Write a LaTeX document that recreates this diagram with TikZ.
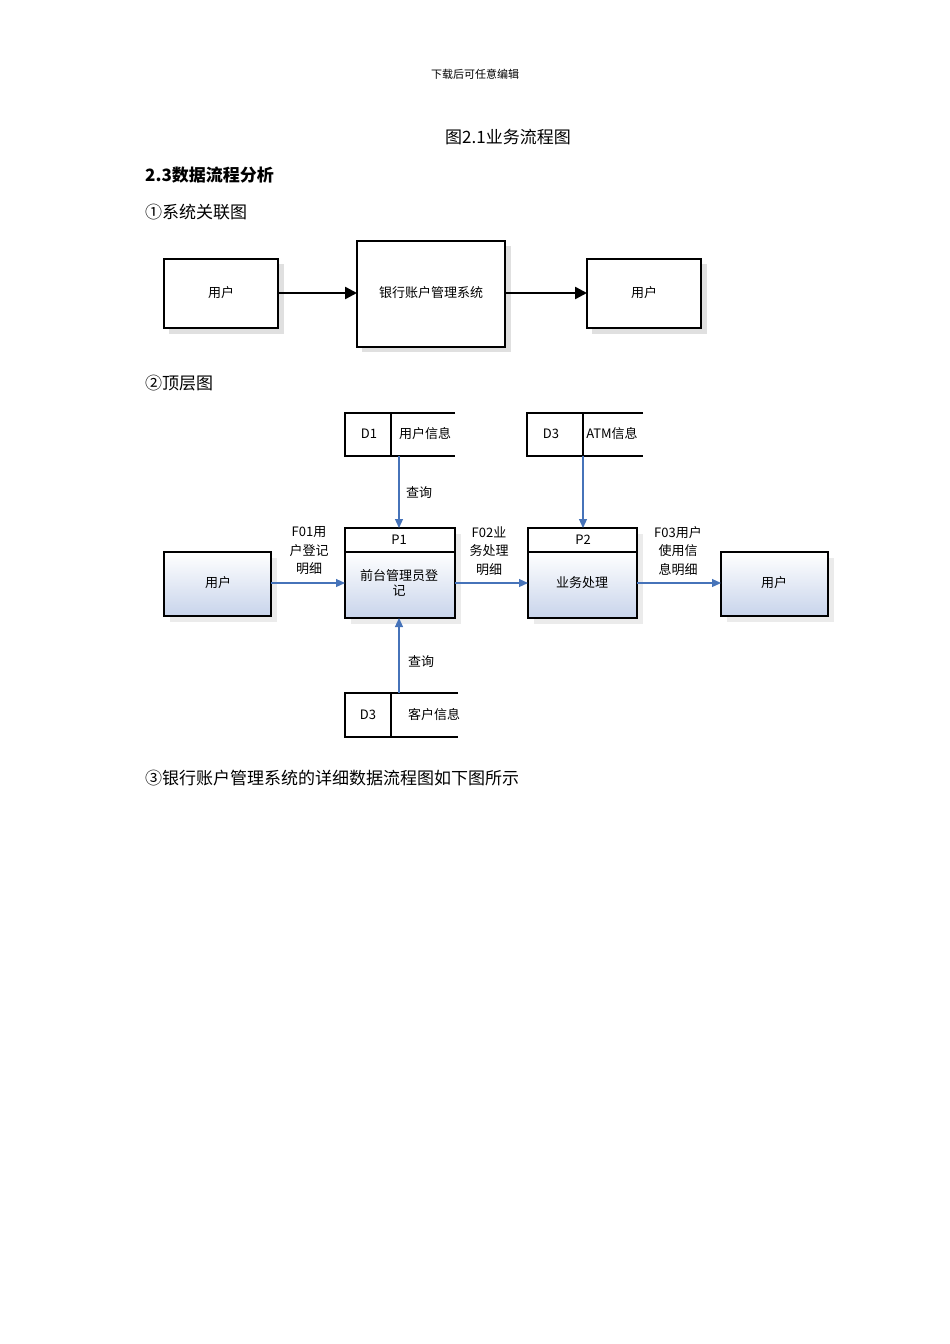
\documentclass[tikz,border=0pt]{standalone}
\usepackage{fontspec}
\setmainfont{Noto Sans CJK SC}
\usetikzlibrary{arrows.meta}
\definecolor{fblue}{RGB}{70,115,185}
\definecolor{lblue}{RGB}{200,212,235}
\tikzset{
 txt/.style={font=\fontsize{13}{15}\selectfont, inner sep=0pt},
 doc/.style={font=\fontsize{17}{20}\selectfont, inner sep=0pt, anchor=west},
 sbox/.style={draw, line width=2.2pt, fill=white, minimum width=#1, inner sep=0pt},
 shadow/.style={fill=black!12},
 flow/.style={draw=fblue, line width=1.2pt, -{Triangle[length=9pt,width=8pt]}},
 bflow/.style={draw, line width=2.5pt, -{Triangle[length=12pt,width=12pt]}},
 gbox/.style={draw, line width=2.2pt, top color=white, bottom color=lblue, inner sep=0pt},
 store/.style={line width=2.2pt}
}
\begin{document}
\begin{tikzpicture}[x=1pt,y=-1pt]
\useasboundingbox (0,0) rectangle (950,1344);
\node[font=\fontsize{11}{13}\selectfont] (hdr) at (475,74) {下载后可任意编辑};
\node[font=\fontsize{17}{20}\selectfont] (cap) at (508,137) {图2.1业务流程图};
\node[doc, font=\fontsize{17}{20}\selectfont\bfseries] (s23) at (145,175) {2.3数据流程分析};
\node[doc] (s1) at (145,212) {①系统关联图};
\node[doc] (s2) at (145,383) {②顶层图};
\node[doc] (s3) at (145,778) {③银行账户管理系统的详细数据流程图如下图所示};
% context diagram
\fill[shadow] (169,264) rectangle (284,334);
\fill[shadow] (362,246) rectangle (511,352);
\fill[shadow] (592,264) rectangle (707,334);
\draw[line width=2.2pt, fill=white] (164,259) rectangle (278,328);
\draw[line width=2.2pt, fill=white] (357,241) rectangle (505,347);
\draw[line width=2.2pt, fill=white] (587,259) rectangle (701,328);
\node[txt] (u1) at (221,293) {用户};
\node[txt] (sys) at (431,293) {银行账户管理系统};
\node[txt] (u2) at (644,293) {用户};
\coordinate (a1) at (278,293); \coordinate (a2) at (357,293);
\coordinate (a3) at (505,293); \coordinate (a4) at (587,293);
\draw[bflow] (a1) -- (a2);
\draw[bflow] (a3) -- (a4);
% top level DFD shadows
\foreach \a/\b/\c/\d in {164/552/271/616, 345/528/455/618, 528/528/637/618, 721/552/828/616}
  \fill[black!8] (\a+6,\b+6) rectangle (\c+6,\d+6);
\draw[gbox] (164,552) rectangle (271,616);
\draw[gbox] (721,552) rectangle (828,616);
\draw[line width=2.2pt, fill=white] (345,528) rectangle (455,552);
\draw[gbox] (345,552) rectangle (455,618);
\draw[line width=2.2pt, fill=white] (528,528) rectangle (637,552);
\draw[gbox] (528,552) rectangle (637,618);
\node[txt] (ul) at (218,583) {用户};
\node[txt] (ur) at (774,583) {用户};
\node[txt] (p1h) at (399,540) {P1};
\node[txt, align=center] (p1) at (399,583) {前台管理员登\\记};
\node[txt] (p2h) at (583,540) {P2};
\node[txt] (p2) at (582,583) {业务处理};
% stores
\draw[store] (455,413) -- (345,413) -- (345,456) -- (455,456);
\draw[store] (391,413) -- (391,456);
\draw[store] (643,413) -- (527,413) -- (527,456) -- (643,456);
\draw[store] (583,413) -- (583,456);
\draw[store] (458,693) -- (345,693) -- (345,737) -- (458,737);
\draw[store] (391,693) -- (391,737);
\node[txt] (d1) at (369,434) {D1};
\node[txt] (d1t) at (425,434) {用户信息};
\node[txt] (d3) at (551,434) {D3};
\node[txt] (d3t) at (612,434) {ATM信息};
\node[txt] (d3b) at (368,715) {D3};
\node[txt] (d3bt) at (434,715) {客户信息};
% flows
\coordinate (f1s) at (399,456); \coordinate (f1e) at (399,528);
\coordinate (f2s) at (583,456); \coordinate (f2e) at (583,528);
\coordinate (f3s) at (399,693); \coordinate (f3e) at (399,618);
\draw[flow] (f1s) -- (f1e);
\draw[flow] (f2s) -- (f2e);
\draw[flow] (f3s) -- (f3e);
\coordinate (h1) at (271,583); \coordinate (h2) at (345,583);
\coordinate (h3) at (455,583); \coordinate (h4) at (528,583);
\coordinate (h5) at (637,583); \coordinate (h6) at (721,583);
\draw[flow] (h1) -- (h2);
\draw[flow] (h3) -- (h4);
\draw[flow] (h5) -- (h6);
\node[txt] (q1) at (419,493) {查询};
\node[txt] (q2) at (421,662) {查询};
\node[txt, align=center, font=\fontsize{13}{18.5}\selectfont] (l1) at (309,551) {F01用\\户登记\\明细};
\node[txt, align=center, font=\fontsize{13}{18.5}\selectfont] (l2) at (489,551) {F02业\\务处理\\明细};
\node[txt, align=center, font=\fontsize{13}{18.5}\selectfont] (l3) at (678,551) {F03用户\\使用信\\息明细};
\end{tikzpicture}
\end{document}
